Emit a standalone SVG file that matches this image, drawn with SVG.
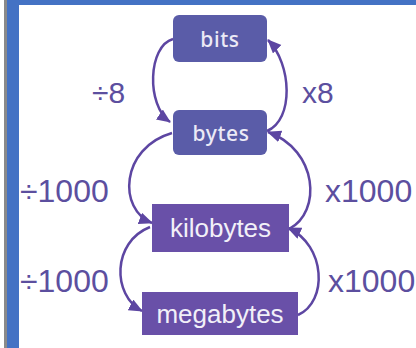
<svg xmlns="http://www.w3.org/2000/svg" width="416" height="348" viewBox="0 0 416 348">
<style>
.frame{fill:#4472c4}
.n1{fill:#5a5ca8}
.n2{fill:#6950a8}
.t1{font-family:"Noto Sans","DejaVu Sans",sans-serif;font-size:21px;font-weight:500;letter-spacing:0.6px;fill:#eceaf6;text-anchor:middle}
.t2{font-family:"Liberation Sans",Arial,sans-serif;font-size:26px;fill:#f2f0f8;text-anchor:middle}
.lbl{font-family:"Liberation Sans",Arial,sans-serif;fill:#5c4f9f}
.c{fill:none;stroke:#5d46a2;stroke-width:2.5}
</style>
<defs>
<marker id="ah" markerUnits="userSpaceOnUse" markerWidth="16" markerHeight="14" refX="13" refY="6" orient="auto">
<path d="M0,0 L14,6 L0,12 Z" fill="#5d46a2"/>
</marker>
</defs>
<rect x="0" y="0" width="416" height="348" fill="#ffffff"/>
<rect x="4" y="0" width="3" height="348" fill="#8a8a8a"/>
<rect class="frame" x="7" y="0" width="12" height="348"/>
<rect class="frame" x="7" y="0" width="409" height="5"/>
<g id="connectors">
<path class="c" d="M173,39 C148,46 146,105 170,122" marker-end="url(#ah)"/>
<path class="c" d="M267,131 C294,120 292,64 268,40" marker-end="url(#ah)"/>
<path class="c" d="M172,133 C120,148 118,210 152,223" marker-end="url(#ah)"/>
<path class="c" d="M289,229 C322,212 318,150 268,132" marker-end="url(#ah)"/>
<path class="c" d="M150,227 C112,242 112,295 142,311" marker-end="url(#ah)"/>
<path class="c" d="M298,315 C328,302 326,245 288,228" marker-end="url(#ah)"/>
</g>
<g id="bits">
<rect class="n1" x="173" y="15" width="94" height="47" rx="6"/>
<text class="t1" x="220" y="47">bits</text>
</g>
<g id="bytes">
<rect class="n1" x="173" y="110" width="94" height="45" rx="6"/>
<text class="t1" x="221" y="141">bytes</text>
</g>
<g id="kilobytes">
<rect class="n2" x="152" y="204" width="137" height="48"/>
<text class="t2" x="220.5" y="237">kilobytes</text>
</g>
<g id="megabytes">
<rect class="n2" x="142" y="292" width="156" height="43"/>
<text class="t2" x="220" y="323">megabytes</text>
</g>
<g id="labels">
<text class="lbl" x="92" y="103" font-size="30">÷8</text>
<text class="lbl" x="302" y="103" font-size="30">x8</text>
<text class="lbl" x="20" y="202" font-size="32">÷1000</text>
<text class="lbl" x="325" y="202" font-size="32">x1000</text>
<text class="lbl" x="20" y="292" font-size="32">÷1000</text>
<text class="lbl" x="328" y="292" font-size="32">x1000</text>
</g>
</svg>
